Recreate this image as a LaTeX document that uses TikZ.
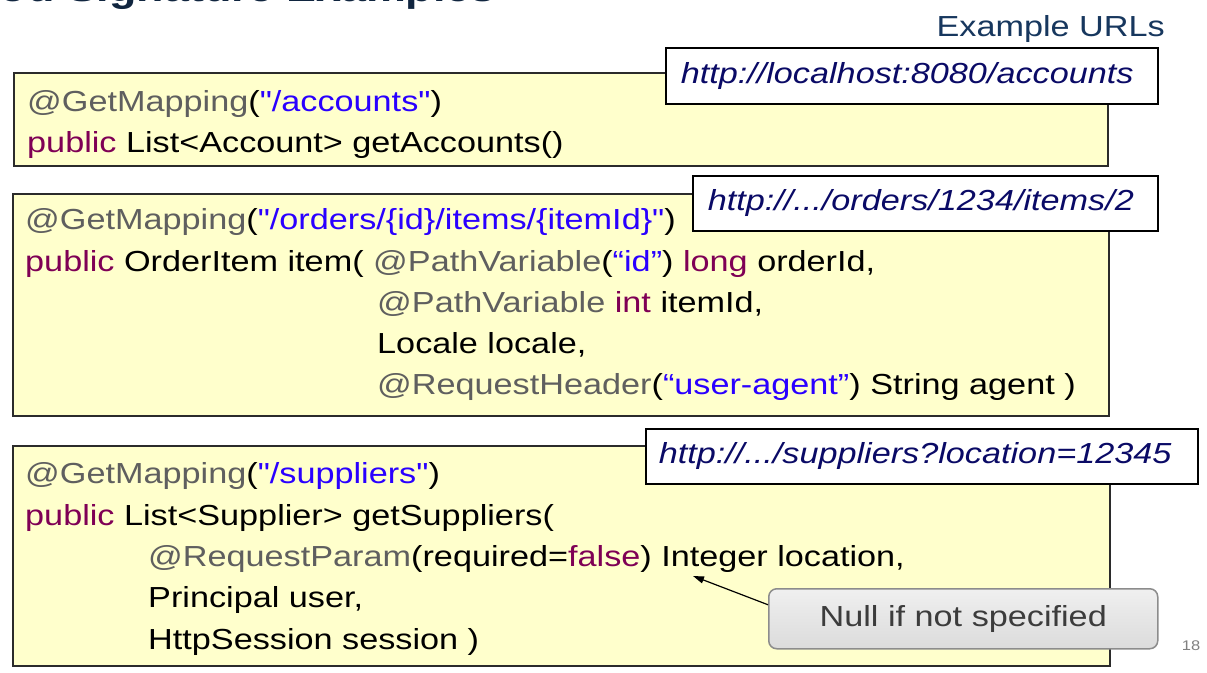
\documentclass[tikz,border=0pt]{standalone}
\usepackage{fontspec}
\setmainfont{Liberation Sans}[FakeStretch=1.18, Ligatures=TeXOff]
\usetikzlibrary{arrows.meta}
\definecolor{boxfill}{HTML}{FFFFCC}
\definecolor{boxline}{HTML}{2B2B2B}
\definecolor{anncol}{HTML}{5F5F5F}
\definecolor{kwcol}{HTML}{7F0055}
\definecolor{strcol}{HTML}{2A00FF}
\definecolor{urlcol}{HTML}{0A0A66}
\definecolor{headcol}{HTML}{17375E}
\definecolor{titlecol}{HTML}{10253F}
\definecolor{callline}{HTML}{8C8C8C}
\definecolor{calltext}{HTML}{3C3C3C}
\newcommand\jann[1]{\textcolor{anncol}{#1}}
\newcommand\jkw[1]{\textcolor{kwcol}{#1}}
\newcommand\jstr[1]{\textcolor{strcol}{#1}}
\newcommand\codefont{\fontsize{29}{35}\selectfont}
\begin{document}
\begin{tikzpicture}[x=1pt,y=-1pt,
  code/.style={anchor=base west, inner sep=0pt, font=\codefont},
  ybox/.style={draw=boxline, line width=2pt, fill=boxfill, anchor=north west, inner sep=0pt},
  urlbox/.style={draw=black, line width=1.5pt, fill=white, anchor=north west, inner ysep=0pt,
    align=left, font=\codefont\itshape, text=urlcol},
  callout/.style={draw=callline, line width=1.5pt, rounded corners=8pt, top color=white!94!black,
    bottom color=white!86!black, anchor=north west, font=\codefont, text=calltext},
  pointer/.style={draw=black, line width=1.2pt, -{Triangle[length=11pt,width=7pt]}}
]
\useasboundingbox (0,0) rectangle (1207,672);
\clip (0,0) rectangle (1207,672);
\fill[white] (0,0) rectangle (1207,672);

% title (cut off at the top, as in the reference)
\node[anchor=base west, inner sep=0pt, font=\fontsize{38}{44}\selectfont\bfseries, text=titlecol]
  (title) at (-105,1) {Method Signature Examples};
\node[anchor=base east, inner sep=0pt, font=\codefont, text=headcol] (hdr) at (1165,36) {Example URLs};

% box 1
\node[ybox, minimum width=1094pt, minimum height=93pt] (b1) at (13,72) {};
\node[code] (l11) at (27,111) {\jann{@GetMapping}(\jstr{"/accounts"})};
\node[code] (l12) at (27,152) {\jkw{public} List<Account> getAccounts()};
\node[urlbox, inner xsep=15pt, text width=462pt, minimum height=56pt] (u1) at (665,47)
  {http://localhost:8080/accounts};

% box 2
\node[ybox, minimum width=1096pt, minimum height=222pt] (b2) at (12,193) {};
\node[code] (l21) at (25,229) {\jann{@GetMapping}(\jstr{"/orders/\{id\}/items/\{itemId\}"})};
\node[code] (l22) at (25,271) {\jkw{public} OrderItem item( \jann{@PathVariable}(\jstr{“id”}) \jkw{long} orderId,};
\node[code] (l23) at (377,312) {\jann{@PathVariable} \jkw{int} itemId,};
\node[code] (l24) at (377,353) {Locale locale,};
\node[code] (l25) at (377,394) {\jann{@RequestHeader}(\jstr{“user-agent”}) String agent )};
\node[urlbox, inner xsep=15pt, text width=435pt, minimum height=55pt] (u2) at (692,175)
  {http://.../orders/1234/items/2};

% box 3
\node[ybox, minimum width=1097pt, minimum height=220pt] (b3) at (12,445) {};
\node[code] (l31) at (25,483) {\jann{@GetMapping}(\jstr{"/suppliers"})};
\node[code] (l32) at (25,525) {\jkw{public} List<Supplier> getSuppliers(};
\node[code] (l33) at (148,566) {\jann{@RequestParam}(required=\jkw{false}) Integer location,};
\node[code] (l34) at (148,607) {Principal user,};
\node[code] (l35) at (148,649) {HttpSession session )};
\node[urlbox, inner xsep=13pt, text width=526pt, minimum height=55pt] (u3) at (645,428)
  {http://.../suppliers?location=12345};

% callout
\node[callout, minimum width=389pt, minimum height=60pt] (call) at (768,588) {Null if not specified};
\coordinate (tgt) at (693,576);
\draw[pointer] ([yshift=14pt]call.west) -- (tgt);

% page number
\node[anchor=base, inner sep=0pt, font=\fontsize{14}{16}\selectfont, text=gray] (pg) at (1191,650) {18};
\end{tikzpicture}
\end{document}
